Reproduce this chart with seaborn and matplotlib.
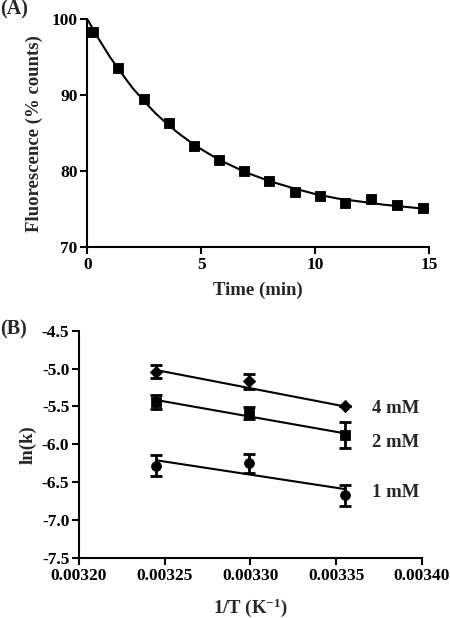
import numpy as np
import pandas as pd
import seaborn as sns
import matplotlib.pyplot as plt

# (A) fluorescence decay
time_min = [0.27, 1.37, 2.48, 3.58, 4.68, 5.8, 6.9, 8.0, 9.1, 10.2, 11.3, 12.45, 13.6, 14.75]
fluor = [98.3, 93.6, 89.5, 86.4, 83.3, 81.5, 80.0, 78.7, 77.2, 76.8, 75.8, 76.3, 75.5, 75.2]
# fitted curve
fit_time = [0, 0.5, 1, 1.5, 2, 2.5, 3, 3.5, 4, 4.5, 5, 5.5, 6, 7, 8, 9, 10, 11, 12, 13, 14, 15]
fit_fluor = [100.0, 97.4, 95.0, 92.9, 90.9, 89.2, 87.6, 86.25, 85.0, 83.9, 82.9, 82.0,
             81.2, 79.8, 78.7, 77.8, 77.0, 76.4, 76.0, 75.6, 75.3, 75.0]

# (B) Arrhenius plot
inv_T = [0.003245, 0.003299, 0.003355]
conc = ['4 mM', '2 mM', '1 mM']
lnk_4 = [-5.04, -5.17, -5.50]
err_4 = [0.09, 0.095, 0.0]
lnk_2 = [-5.44, -5.59, -5.88]
err_2 = [0.09, 0.08, 0.17]
lnk_1 = [-6.28, -6.25, -6.67]
err_1 = [0.14, 0.125, 0.14]
fit_start = [-5.02, -5.415, -6.21]
fit_end = [-5.50, -5.855, -6.59]
label_y = [-5.53, -5.97, -6.64]

sns.set_style('ticks')
plt.rcParams['font.family'] = ['Liberation Serif', 'DejaVu Serif']
plt.rcParams['font.weight'] = 'bold'
plt.rcParams['axes.labelweight'] = 'bold'
plt.rcParams['mathtext.fontset'] = 'custom'
plt.rcParams['mathtext.rm'] = 'Liberation Serif:bold'
plt.rcParams['mathtext.bf'] = 'Liberation Serif:bold'
plt.rcParams['mathtext.default'] = 'bf'

fig = plt.figure(figsize=(4.5, 6.18), dpi=100)
axA = fig.add_axes([0.194, 0.600, 0.759, 0.369])
axB = fig.add_axes([0.1756, 0.097, 0.762, 0.368])

for ax in (axA, axB):
    for s in ('top', 'right'):
        ax.spines[s].set_visible(False)
    for s in ('left', 'bottom'):
        ax.spines[s].set_linewidth(1.5)
        ax.spines[s].set_color('black')
    ax.tick_params(direction='out', length=5, width=1.5, labelsize=12.5, colors='black', pad=2)

# panel A
sns.lineplot(x=fit_time, y=fit_fluor, ax=axA, color='black', linewidth=1.5)
sns.scatterplot(x=time_min, y=fluor, ax=axA, marker='s', s=60, color='black',
                edgecolor='black', zorder=3)
axA.set_xlim(0, 15)
axA.set_ylim(70, 100)
axA.set_xticks([0, 5, 10, 15])
axA.set_yticks([70, 80, 90, 100])
axA.set_xlabel('Time (min)', fontsize=13.5, fontweight='bold', labelpad=6)
axA.set_ylabel('Fluorescence (% counts)', fontsize=13.5, fontweight='bold', labelpad=6)
for lab in axA.get_xticklabels() + axA.get_yticklabels():
    lab.set_fontweight('bold')

# panel B
series = [(lnk_4, err_4, 'D', 40), (lnk_2, err_2, 's', 50), (lnk_1, err_1, 'o', 50)]
for i, (lnk, err, mk, ms) in enumerate(series):
    df = pd.DataFrame({'x': inv_T, 'y': lnk})
    axB.errorbar(inv_T, lnk, yerr=err, fmt='none', ecolor='black', elinewidth=2,
                 capsize=4, capthick=2, zorder=2)
    sns.scatterplot(data=df, x='x', y='y', ax=axB, marker=mk, s=ms, color='black',
                    edgecolor='black', zorder=3)
    sns.lineplot(x=[inv_T[0], inv_T[-1]], y=[fit_start[i], fit_end[i]], ax=axB,
                 color='black', linewidth=1.5)
    axB.text(0.003371, label_y[i], conc[i], fontsize=13.5, fontweight='bold',
             va='center', ha='left')

axB.set_xlim(0.00320, 0.00340)
axB.set_ylim(-7.5, -4.5)
axB.set_xticks([0.00320, 0.00325, 0.00330, 0.00335, 0.00340])
axB.set_xticklabels(['0.00320', '0.00325', '0.00330', '0.00335', '0.00340'])
yt = [-4.5, -5.0, -5.5, -6.0, -6.5, -7.0, -7.5]
axB.set_yticks(yt)
axB.set_yticklabels([f'{v:.1f}' for v in yt])
axB.set_xlabel(r'1/T (K$^{-1}$)', fontsize=13.5, fontweight='bold', labelpad=9)
axB.set_ylabel('ln(k)', fontsize=13.5, fontweight='bold', labelpad=4)
for lab in axB.get_xticklabels() + axB.get_yticklabels():
    lab.set_fontweight('bold')

fig.text(0.0, 0.985, '(A)', fontsize=14.5, fontweight='bold', va='center', ha='left')
fig.text(0.0, 0.467, '(B)', fontsize=14.5, fontweight='bold', va='center', ha='left')

fig.savefig('out.png', dpi=100)
